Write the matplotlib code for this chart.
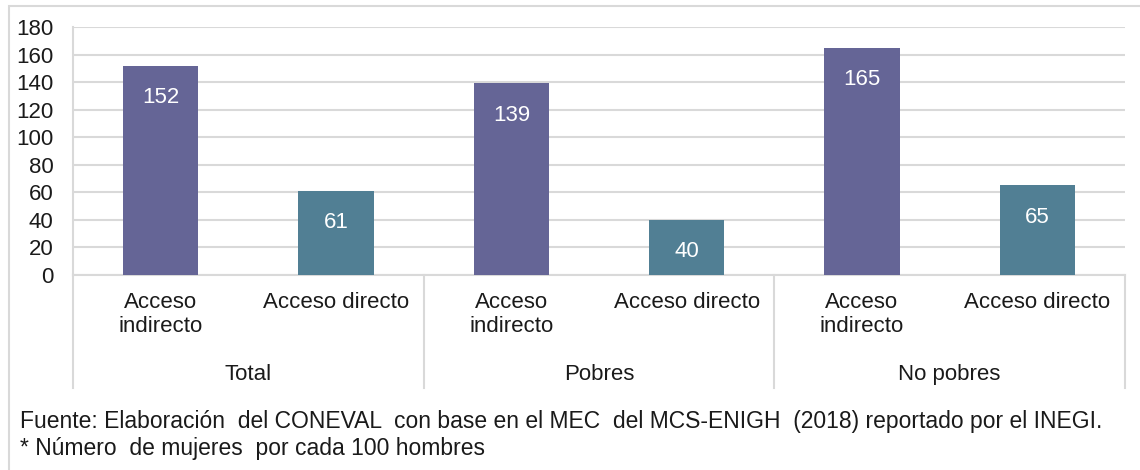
import matplotlib.pyplot as plt
import matplotlib.transforms as mtransforms
from matplotlib.patches import Rectangle

plt.rcParams['font.family'] = ['Liberation Sans', 'DejaVu Sans']

groups = ['Total', 'Pobres', 'No pobres']
categories = ['Acceso\nindirecto', 'Acceso directo'] * 3
values = [152, 61, 139, 40, 165, 65]
colors = ['#656596', '#517f94'] * 3
yticks = [0, 20, 40, 60, 80, 100, 120, 140, 160, 180]
source = 'Fuente: Elaboración  del CONEVAL  con base en el MEC  del MCS-ENIGH  (2018) reportado por el INEGI.'
note = '* Número  de mujeres  por cada 100 hombres'

fs = 16
txt = '#1a1a1a'

fig = plt.figure(figsize=(11.4, 4.7), dpi=100)
# outer frame
fig.patches.append(Rectangle((9 / 1140, -0.05), 1.1, (470 - 6) / 470 + 0.05,
                             transform=fig.transFigure, fill=False,
                             edgecolor='#d9d9d9', linewidth=1.5))

ax = fig.add_axes([73 / 1140, 195 / 470, 1052 / 1140, 248 / 470])
x = list(range(len(values)))
ax.bar(x, values, width=0.43, color=colors, zorder=3)

for xi, v in zip(x, values):
    ax.annotate(str(v), (xi, v), xytext=(0, -21), textcoords='offset points',
                ha='center', va='center_baseline', color='white', fontsize=fs)

ax.set_xlim(-0.5, len(values) - 0.5)
ax.set_ylim(0, 180)
ax.set_yticks(yticks)
ax.set_yticklabels([str(t) for t in yticks], fontsize=fs, color=txt)
ax.yaxis.grid(True, color='#d9d9d9', linewidth=1.5, zorder=0)
ax.tick_params(axis='y', length=0, pad=14)
ax.set_xticks(x)
ax.set_xticklabels(categories, fontsize=fs, color=txt, linespacing=1.2, va='top')
ax.tick_params(axis='x', length=0, pad=12)

for s in ['top', 'right', 'left']:
    ax.spines[s].set_visible(False)
ax.spines['bottom'].set_color('#d9d9d9')
ax.spines['bottom'].set_linewidth(1.5)

trans = mtransforms.blended_transform_factory(ax.transData, ax.transAxes)
for sep in [-0.5, 1.5, 3.5, 5.5]:
    ax.plot([sep, sep], [0, -0.456], transform=trans, color='#d9d9d9',
            linewidth=1.5, clip_on=False)
ax.plot([-0.5, -0.5], [0, 1], transform=trans, color='#d9d9d9', linewidth=1.5, clip_on=False)

for i, g in enumerate(groups):
    ax.text(2 * i + 0.5, -0.391, g, transform=trans, ha='center', va='center_baseline',
            fontsize=fs, color=txt)

fig.text(20 / 1140, 1 - 428 / 470, source, fontsize=16.5, color=txt, va='baseline')
fig.text(20 / 1140, 1 - 455 / 470, note, fontsize=16.5, color=txt, va='baseline')

fig.savefig('out.png', dpi=100)
